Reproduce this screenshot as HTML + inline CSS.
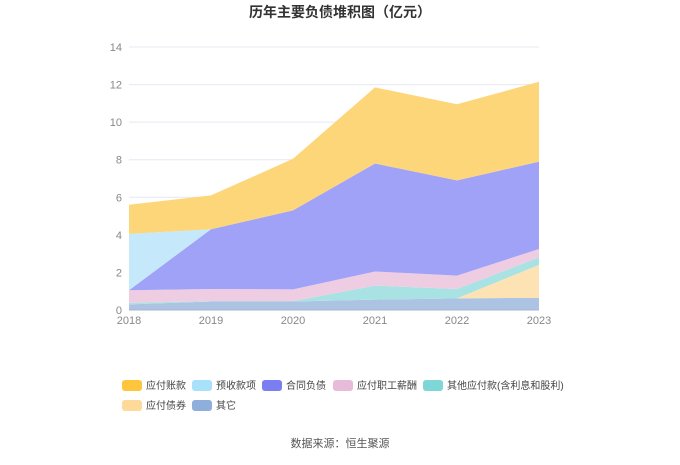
<!DOCTYPE html>
<html><head><meta charset="utf-8"><style>
body{margin:0;background:#fff;font-family:"Liberation Sans","Noto Sans CJK SC",sans-serif;}
#wrap{position:relative;width:680px;height:460px;}
</style></head><body>
<div id="wrap">
<svg id="svg" width="680" height="460" xmlns="http://www.w3.org/2000/svg"></svg>
</div>
<script>
const years=["2018","2019","2020","2021","2022","2023"];
const seriesNames=["其它","应付债券","其他应付款(含利息和股利)","应付职工薪酬","合同负债","预收款项","应付账款"];
const other=[0.3,0.45,0.45,0.55,0.62,0.65];
const bonds=[0,0,0,0,0,1.75];
const otherPay=[0.08,0.02,0.02,0.75,0.5,0.4];
const salary=[0.67,0.65,0.63,0.75,0.71,0.45];
const contract=[0,3.18,4.2,5.75,5.07,4.65];
const advance=[3.0,0,0,0,0,0];
const payable=[1.55,1.8,2.75,4.05,4.05,4.25];
const yTicks=[0,2,4,6,8,10,12,14];
const fills=["#adc3e3","#fde3b3","#a8e2e2","#eecde3","#a0a2f7","#c5e8fb","#fdd67a"];
const legendColors=["#8eaedb","#fdd99a","#7fd6d6","#e8bcd9","#7b7ef0","#a9e0fa","#ffc53d"];
const svg=document.getElementById('svg');const NS="http://www.w3.org/2000/svg";
function el(t,a,p){const e=document.createElementNS(NS,t);for(const k in a)e.setAttribute(k,a[k]);(p||svg).appendChild(e);return e;}
const x=i=>129+i*82, y=v=>310-v*(263/14);
let t=el('text',{x:340,y:17,'text-anchor':'middle','font-size':'14','font-weight':'bold',fill:'#333'});t.textContent='历年主要负债堆积图（亿元）';

yTicks.forEach(v=>{
 const g=el('line',{x1:129,x2:539,y1:y(v),y2:y(v),stroke:'#e6e8f2','stroke-width':1});
 
 const l=el('text',{x:122,y:y(v)+4,'text-anchor':'end','font-size':'11',fill:'#888'});l.textContent=v;
 
});
const data=[other,bonds,otherPay,salary,contract,advance,payable];
const names=["area-other","area-bonds","area-other-payables","area-salary","area-contract-liabilities","area-advance-receipts","area-accounts-payable"];
let base=years.map(()=>0);
data.forEach((s,k)=>{
 const top=base.map((b,i)=>b+s[i]);
 let d=top.map((v,i)=>(i?'L':'M')+x(i)+','+y(v)).join('');
 for(let i=years.length-1;i>=0;i--)d+='L'+x(i)+','+y(base[i]);
 const p=el('path',{d:d+'Z',fill:fills[k],stroke:'none'});
 
 base=top;
});
const ax=el('line',{x1:129,x2:539,y1:310,y2:310,stroke:'#a9b4cc'});

years.forEach((yr,i)=>{
 const l=el('text',{x:x(i),y:324,'text-anchor':'middle','font-size':'11',fill:'#888'});l.textContent=yr;
 
});
const legendOrder=[6,5,4,3,2,1,0];
const lx=[122,192,262,333,423,122,192], ly=[385,385,385,385,385,405,405];
legendOrder.forEach((k,j)=>{
 const g=el('g',{});
 
 el('rect',{x:lx[j],y:ly[j]-5,width:20,height:11,rx:3,fill:legendColors[k]},g);
 const tx=el('text',{x:lx[j]+24,y:ly[j]+4,'font-size':'10',fill:'#444'},g);tx.textContent=seriesNames[k];
});
t=el('text',{x:340,y:447,'text-anchor':'middle','font-size':'11',fill:'#555'});t.textContent='数据来源：恒生聚源';

</script>
</body></html>
